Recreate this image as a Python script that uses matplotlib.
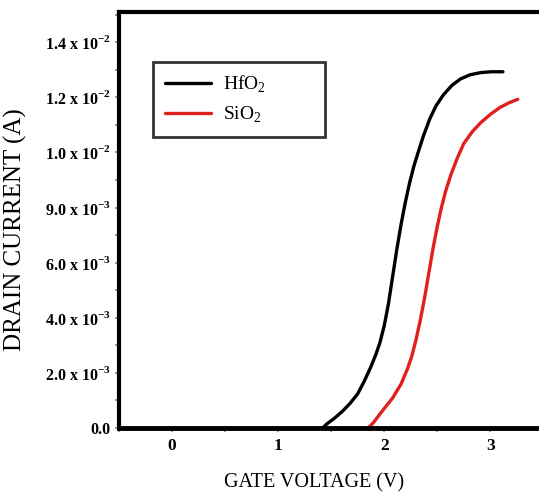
import matplotlib
matplotlib.use("Agg")
import matplotlib.pyplot as plt
from matplotlib.ticker import MultipleLocator

# datos
hfo2_v = [1.42, 1.46, 1.53, 1.61, 1.68, 1.75, 1.81, 1.87, 1.92, 1.96, 2.00, 2.04, 2.08, 2.12, 2.16, 2.20,
          2.24, 2.28, 2.32, 2.37, 2.43, 2.49, 2.56, 2.64, 2.72, 2.81, 2.91, 3.01, 3.12]
hfo2_i = [0.0, 0.00015, 0.00035, 0.00062, 0.0009, 0.00124, 0.00168, 0.00218, 0.00265, 0.0031, 0.0037,
          0.0045, 0.0055, 0.0065, 0.0074, 0.0082, 0.0089, 0.0095, 0.0100, 0.0106, 0.01122, 0.0117,
          0.01210, 0.01244, 0.01267, 0.01282, 0.01290, 0.01293, 0.01293]
sio2_v = [1.85, 1.90, 1.96, 2.02, 2.08, 2.16, 2.22, 2.26, 2.30, 2.34, 2.38, 2.42, 2.46, 2.50, 2.54, 2.58,
          2.63, 2.69, 2.75, 2.83, 2.91, 3.00, 3.09, 3.18, 3.26]
sio2_i = [0.0, 0.0002, 0.00051, 0.0008, 0.00109, 0.0016, 0.00215, 0.0026, 0.0032, 0.0039, 0.0047, 0.0056,
          0.0065, 0.0073, 0.0080, 0.0086, 0.0092, 0.0098, 0.01032, 0.01075, 0.01108, 0.01138, 0.01163,
          0.01181, 0.01193]

ytick_vals = [0.0, 0.002, 0.004, 0.006, 0.008, 0.010, 0.012, 0.014]
ytick_labels = ["0.0", "2.0 x 10$^{\\mathbf{-3}}$", "4.0 x 10$^{\\mathbf{-3}}$", "6.0 x 10$^{\\mathbf{-3}}$",
                "9.0 x 10$^{\\mathbf{-3}}$", "1.0 x 10$^{\\mathbf{-2}}$", "1.2 x 10$^{\\mathbf{-2}}$",
                "1.4 x 10$^{\\mathbf{-2}}$"]
xtick_vals = [0, 1, 2, 3]

plt.rcParams["font.family"] = "Liberation Serif"
plt.rcParams["mathtext.fontset"] = "custom"
plt.rcParams["mathtext.rm"] = "Liberation Serif"
plt.rcParams["mathtext.bf"] = "Liberation Serif:bold"

fig = plt.figure(figsize=(5.39, 4.93), dpi=100)
ax = fig.add_axes([0.2208, 0.1318, 0.7792, 0.8439])

ax.plot(hfo2_v, hfo2_i, color="black", lw=2.4, solid_capstyle="round", solid_joinstyle="round", label="HfO$_2$")
ax.plot(sio2_v, sio2_i, color="#e0201e", lw=2.4, solid_capstyle="round", solid_joinstyle="round", label="SiO$_2$")

ax.set_xlim(-0.5, 3.46)
ax.set_ylim(0, 0.0151)

ax.set_yticks(ytick_vals)
ax.set_yticklabels(ytick_labels, fontweight="bold", fontsize=11.5)
ax.set_xticks(xtick_vals)
ax.set_xticklabels([str(v) for v in xtick_vals], fontweight="bold", fontsize=12.5)
ax.xaxis.set_minor_locator(MultipleLocator(0.5))
ax.yaxis.set_minor_locator(MultipleLocator(0.001))
ax.tick_params(which="both", direction="out", length=3, width=1.2, color="#888888")
ax.tick_params(axis="x", pad=4)
ax.tick_params(axis="y", pad=3)

for s in ["left", "top"]:
    ax.spines[s].set_linewidth(3)
ax.spines["bottom"].set_linewidth(3.5)
ax.spines["right"].set_visible(False)

ax.set_xlabel("GATE VOLTAGE (V)", fontsize=14.5)
ax.xaxis.set_label_coords(0.465, -0.108)
ax.set_ylabel("DRAIN CURRENT (A)", fontsize=18)
ax.yaxis.set_label_coords(-0.219, 0.476)

leg = ax.legend(loc="upper left", bbox_to_anchor=(0.081, 0.70, 0.41, 0.18), mode="expand",
                fontsize=14, frameon=True, fancybox=False, edgecolor="black", handlelength=2.4,
                handletextpad=0.6, borderpad=0.6, labelspacing=0.5, borderaxespad=0)
leg.get_frame().set_linewidth(2)

fig.savefig("out.png", dpi=100)
